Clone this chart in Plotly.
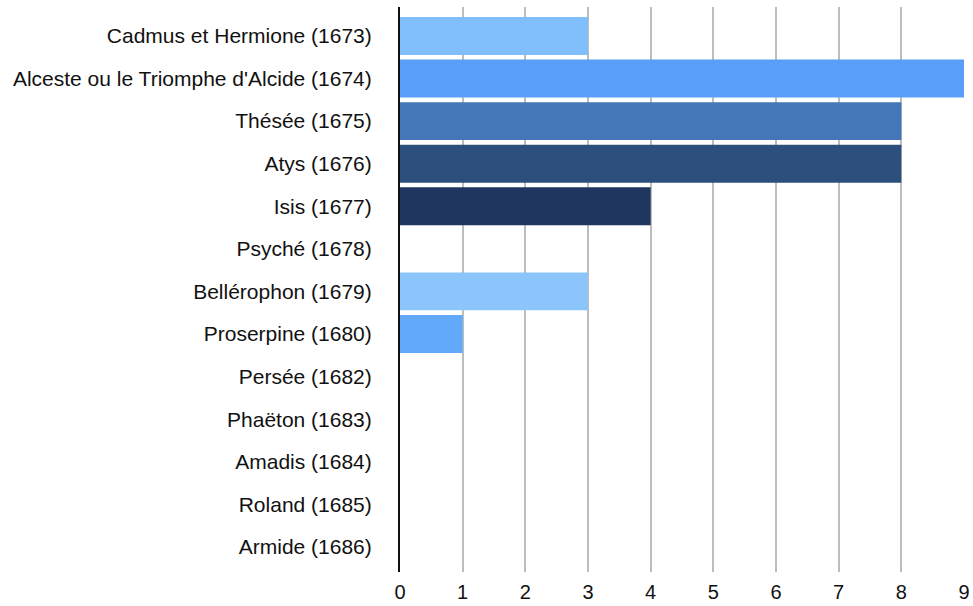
import plotly.graph_objects as go

categories = [
    "Cadmus et Hermione (1673)",
    "Alceste ou le Triomphe d'Alcide (1674)",
    "Thésée (1675)",
    "Atys (1676)",
    "Isis (1677)",
    "Psyché (1678)",
    "Bellérophon (1679)",
    "Proserpine (1680)",
    "Persée (1682)",
    "Phaëton (1683)",
    "Amadis (1684)",
    "Roland (1685)",
    "Armide (1686)",
]
values = [3, 9, 8, 8, 4, 0, 3, 1, 0, 0, 0, 0, 0]
bar_colors = [
    "#80BEFC", "#599FFA", "#4477B7", "#2C4F7E", "#1F365F",
    "#6FB2FB", "#8BC5FC", "#63A9FB", "#4477B7", "#2C4F7E",
    "#1F365F", "#80BEFC", "#599FFA",
]
x_ticks = list(range(0, 10))

fig = go.Figure(
    go.Bar(
        x=values,
        y=categories,
        orientation="h",
        marker=dict(color=bar_colors, line=dict(width=0)),
        width=0.89,
    )
)

fig.update_layout(
    width=973,
    height=606,
    margin=dict(l=400, r=9, t=7, b=34),
    paper_bgcolor="white",
    plot_bgcolor="white",
    showlegend=False,
    font=dict(family="Liberation Sans, Arial, sans-serif", size=21, color="#111111"),
)

fig.update_xaxes(
    range=[0, 9],
    tickmode="array",
    tickvals=x_ticks,
    ticktext=[str(t) for t in x_ticks],
    showgrid=True,
    gridcolor="#BDBDBD",
    gridwidth=2,
    zeroline=False,
    showline=False,
    ticks="",
    ticklabelstandoff=6,
    tickfont=dict(size=20),
    automargin=False,
)

fig.update_yaxes(
    type="category",
    categoryorder="array",
    categoryarray=categories,
    range=[12.59, -0.68],
    showgrid=False,
    zeroline=False,
    showline=True,
    linecolor="#111111",
    linewidth=2,
    ticks="",
    ticklabelstandoff=22,
    tickfont=dict(size=21),
    automargin=False,
)

fig.write_html("out.html")
